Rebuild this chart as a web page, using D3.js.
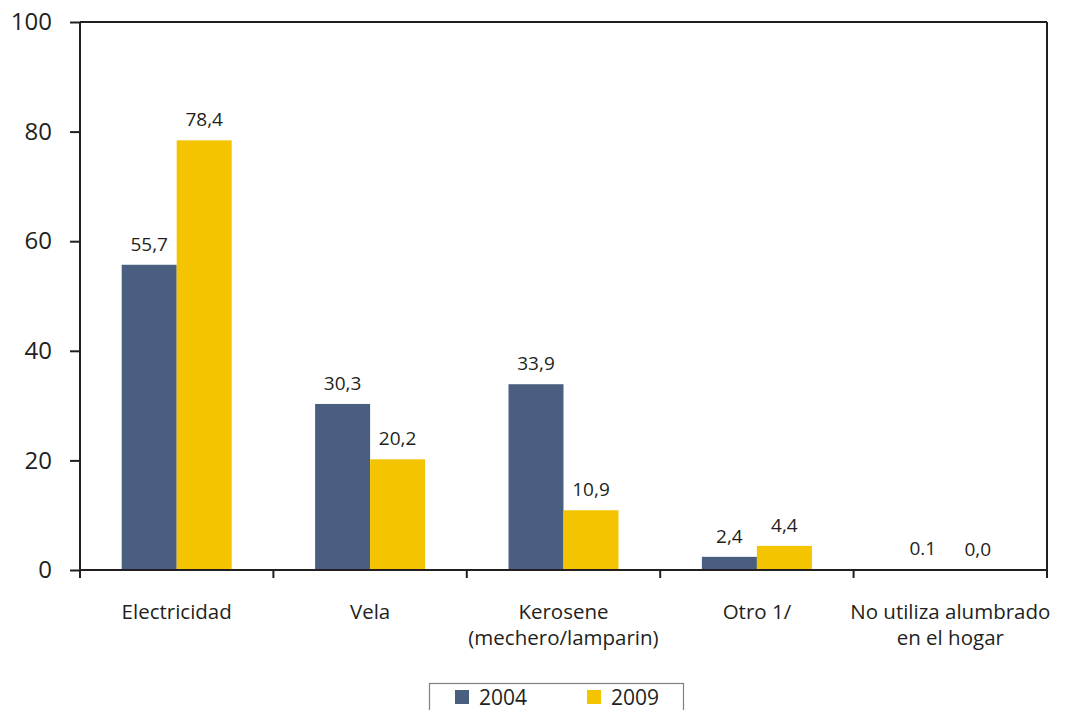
<!DOCTYPE html>
<html><head><meta charset="utf-8">
<script src="https://cdn.jsdelivr.net/npm/d3@7"></script>
<style>body{margin:0;background:#fff}svg{display:block}text{font-family:"Open Sans",sans-serif;fill:#231f20}</style>
</head><body>
<svg id="c" width="1067" height="710"></svg>
<script>
const categories = [["Electricidad"],["Vela"],["Kerosene","(mechero/lamparin)"],["Otro 1/"],["No utiliza alumbrado","en el hogar"]];
const series = ["2004","2009"];
const values2004 = [55.7,30.3,33.9,2.4,0.1];
const values2009 = [78.4,20.2,10.9,4.4,0.0];
const labels2004 = ["55,7","30,3","33,9","2,4","0.1"];
const labels2009 = ["78,4","20,2","10,9","4,4","0,0"];
const yTicks = [0,20,40,60,80,100];
const colors = ["#4a5f80","#f5c400"];

const svg = d3.select("#c");
const L=80,R=1047,T=22,B=570;
const x = d3.scaleBand().domain(d3.range(categories.length)).range([L,R]).paddingInner(0).paddingOuter(0);
const y = d3.scaleLinear().domain([0,100]).range([B,T]);
const groupW = 110;
const xs = d3.scaleBand().domain(series).range([0,groupW]);

const data = [values2004, values2009];
const labs = [labels2004, labels2009];
series.forEach((s,si)=>{
  const g = svg.append("g");
  g.selectAll("rect").data(data[si]).enter().append("rect")
    .attr("x",(d,i)=>x(i)+x.bandwidth()/2-groupW/2+xs(s))
    .attr("width",xs.bandwidth())
    .attr("y",d=>y(d)).attr("height",d=>B-y(d)).attr("fill",colors[si]);
  g.selectAll("text").data(data[si]).enter().append("text")
    .attr("x",(d,i)=>x(i)+x.bandwidth()/2-groupW/2+xs(s)+xs.bandwidth()/2)
    .attr("y",d=>y(d)-14).attr("text-anchor","middle").attr("font-size",19)
    .text((d,i)=>labs[si][i]);
});

// axes
const ax = svg.append("g").attr("stroke","#231f20").attr("stroke-width",2).attr("fill","none");
ax.append("line").attr("x1",L).attr("x2",L).attr("y1",T).attr("y2",B+8);
ax.append("line").attr("x1",R).attr("x2",R).attr("y1",T).attr("y2",B+8);
ax.append("line").attr("x1",L).attr("x2",R).attr("y1",T).attr("y2",T);
ax.append("line").attr("x1",L).attr("x2",R).attr("y1",B).attr("y2",B);
const yAxis = d3.axisLeft(y).tickValues(yTicks).tickSize(10).tickFormat(d3.format("d"));
const ya = svg.append("g").attr("transform",`translate(${L},0)`).call(yAxis);
ya.select(".domain").remove();
ya.selectAll("line").attr("stroke","#231f20").attr("stroke-width",2);
ya.selectAll("text").attr("font-size",24).attr("x",-28).attr("font-family","Open Sans").attr("fill","#231f20");
// category boundary ticks
svg.append("g").selectAll("line").data(d3.range(categories.length+1)).enter().append("line")
  .attr("x1",i=>L+i*x.bandwidth()).attr("x2",i=>L+i*x.bandwidth())
  .attr("y1",B).attr("y2",B+8).attr("stroke","#231f20").attr("stroke-width",2);
// category labels
categories.forEach((lines,i)=>{
  lines.forEach((ln,j)=>svg.append("text").attr("x",x(i)+x.bandwidth()/2).attr("y",619+j*26)
    .attr("text-anchor","middle").attr("font-size",20.5).text(ln));
});
// legend
const lg = svg.append("g");
lg.append("rect").attr("x",429.5).attr("y",683.5).attr("width",254).attr("height",40).attr("fill","#fff").attr("stroke","#808080").attr("stroke-width",1.2);
const lx=[455,587];
series.forEach((s,i)=>{
  lg.append("rect").attr("x",lx[i]).attr("y",690).attr("width",14).attr("height",14).attr("fill",colors[i]);
  lg.append("text").attr("x",lx[i]+24).attr("y",705).attr("font-size",21).text(s);
});
</script>
</body></html>
